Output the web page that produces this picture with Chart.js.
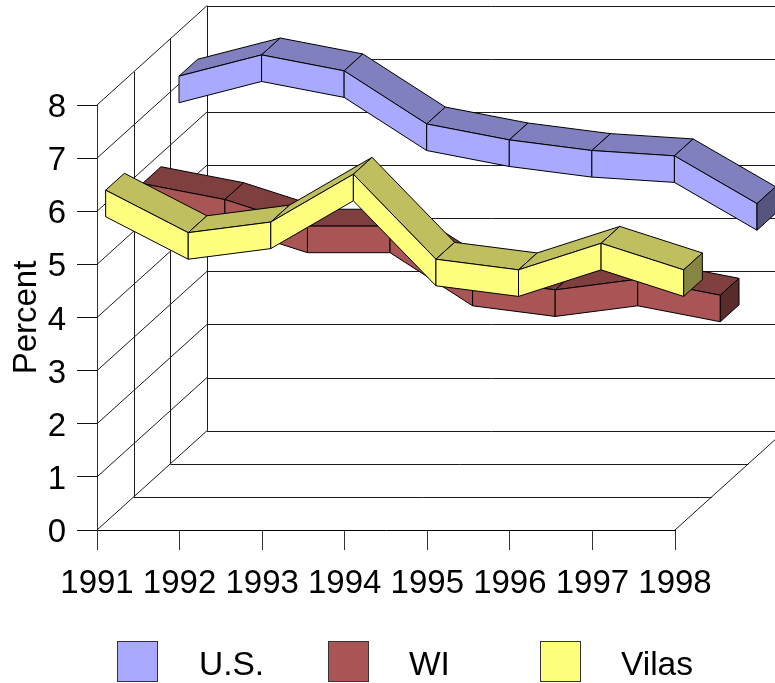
<!DOCTYPE html>
<html>
<head>
<meta charset="utf-8">
<style>html,body{margin:0;padding:0;background:#fff}canvas{display:block}</style>
<script src="https://cdn.jsdelivr.net/npm/chart.js@4"></script>
</head>
<body>
<canvas id="c" width="775" height="683"></canvas>
<script>
const categories = ['1991','1992','1993','1994','1995','1996','1997','1998'];
const seriesNames = ['U.S.','WI','Vilas'];
const usValues    = [6.9,7.3,7.0,6.0,5.7,5.5,5.4,4.5];
const wiValues    = [5.5,5.2,4.7,4.7,3.7,3.5,3.7,3.4];
const vilasValues = [6.0,5.2,5.4,6.3,4.7,4.5,5.0,4.5];
const frontColors = ['#A9A9FF','#AA5555','#FFFF7F'];
const topColors   = ['#8080BF','#803F3F','#BFBF5F'];
const sideColors  = ['#555580','#5A2B2B','#868642'];
const FONT = '"Liberation Sans", Arial, sans-serif';

const DEPTH_X = 110, DEPTH_Y = 99.3, RIBBON_START = 0.236, RIBBON_WIDTH = 0.51, HALF_THICK = 0.25;

const crisp = v => Math.round(v) + 0.5;
function seg(ctx, x1, y1, x2, y2) { ctx.beginPath(); ctx.moveTo(x1, y1); ctx.lineTo(x2, y2); ctx.stroke(); }
function quad(ctx, p, fill) {
  ctx.beginPath();
  ctx.moveTo(p[0][0], p[0][1]);
  for (let i = 1; i < p.length; i++) ctx.lineTo(p[i][0], p[i][1]);
  ctx.closePath();
  ctx.fillStyle = fill;
  ctx.fill();
  ctx.stroke();
}

const nudgeLabels = {
  id: 'nudgeLabels',
  beforeDraw(chart) {
    for (const item of chart.scales.y.getLabelItems()) {
      if (!item.nudged) { item.options.translation[1] += 3; item.nudged = true; }
    }
  }
};

const walls3d = {
  id: 'walls3d',
  beforeDatasetsDraw(chart) {
    const ctx = chart.ctx, xs = chart.scales.x, ys = chart.scales.y;
    const x0 = xs.getPixelForValue(0), x1 = xs.getPixelForValue(categories.length - 1);
    const y0 = ys.getPixelForValue(0), yT = ys.getPixelForValue(8);
    ctx.save();
    ctx.strokeStyle = '#1a1a1a';
    ctx.lineWidth = 1;
    for (const t of ys.ticks) {
      const y = ys.getPixelForValue(t.value);
      seg(ctx, x0, y, x0 + DEPTH_X, y - DEPTH_Y);
      const by = crisp(y - DEPTH_Y);
      seg(ctx, x0 + DEPTH_X, by, x1 + DEPTH_X, by);
    }
    for (let k = 1; k <= 3; k++) {
      const dx = DEPTH_X * k / 3, dy = DEPTH_Y * k / 3;
      seg(ctx, crisp(x0 + dx), y0 - dy, crisp(x0 + dx), yT - dy);
      if (k < 3) seg(ctx, x0 + dx, crisp(y0 - dy), x1 + dx, crisp(y0 - dy));
    }
    seg(ctx, x1, y0, x1 + DEPTH_X, y0 - DEPTH_Y);
    ctx.restore();
  }
};

const ribbons3d = {
  id: 'ribbons3d',
  beforeDatasetsDraw(chart) {
    const ctx = chart.ctx, ys = chart.scales.y;
    const unit = Math.abs(ys.getPixelForValue(HALF_THICK) - ys.getPixelForValue(0));
    ctx.save();
    ctx.strokeStyle = '#000';
    ctx.lineWidth = 1;
    ctx.lineJoin = 'round';
    chart.data.datasets.forEach((ds, di) => {
      const meta = chart.getDatasetMeta(di);
      const depth = (chart.data.datasets.length - 1 - di) + RIBBON_START;
      const ox = depth * DEPTH_X / 3, oy = depth * DEPTH_Y / 3;
      const wx = RIBBON_WIDTH * DEPTH_X / 3, wy = RIBBON_WIDTH * DEPTH_Y / 3;
      const pts = meta.data.map(p => ({ x: p.x + ox, t: p.y - unit - oy, b: p.y + unit - oy }));
      for (let i = 0; i < pts.length - 1; i++) {
        const a = pts[i], c = pts[i + 1];
        quad(ctx, [[a.x, a.t], [c.x, c.t], [c.x + wx, c.t - wy], [a.x + wx, a.t - wy]], topColors[di]);
        quad(ctx, [[a.x, a.t], [c.x, c.t], [c.x, c.b], [a.x, a.b]], frontColors[di]);
      }
      const e = pts[pts.length - 1];
      quad(ctx, [[e.x, e.t], [e.x, e.b], [e.x + wx, e.b - wy], [e.x + wx, e.t - wy]], sideColors[di]);
    });
    ctx.restore();
  }
};

const legendBoxes = {
  id: 'legendBoxes',
  afterDraw(chart) {
    const ctx = chart.ctx;
    const boxX = [117, 328, 540], textX = [199, 409, 621];
    ctx.save();
    chart.data.datasets.forEach((ds, i) => {
      ctx.fillStyle = frontColors[i];
      ctx.fillRect(boxX[i] + 0.5, 641.5, 40, 40);
      ctx.strokeStyle = '#333';
      ctx.lineWidth = 1;
      ctx.strokeRect(boxX[i] + 0.5, 641.5, 40, 40);
      ctx.fillStyle = '#000';
      ctx.font = '33.5px ' + FONT;
      ctx.textBaseline = 'alphabetic';
      ctx.textAlign = 'left';
      ctx.fillText(ds.label, textX[i], 675);
    });
    ctx.restore();
  }
};

new Chart(document.getElementById('c'), {
  type: 'line',
  data: {
    labels: categories,
    datasets: [usValues, wiValues, vilasValues].map((d, i) => ({
      label: seriesNames[i], data: d, showLine: false, pointRadius: 0,
      backgroundColor: frontColors[i], borderColor: '#000'
    }))
  },
  plugins: [nudgeLabels, walls3d, ribbons3d, legendBoxes],
  options: {
    responsive: false,
    animation: false,
    layout: { padding: { top: 105, right: 100, left: 0, bottom: 0 } },
    plugins: { legend: { display: false }, tooltip: { enabled: false }, title: { display: false } },
    scales: {
      x: {
        type: 'category',
        offset: false,
        afterFit: s => { s.height = 153; },
        grid: { drawOnChartArea: false, drawTicks: true, tickLength: 20, color: '#333', offset: false },
        border: { display: true, color: '#000' },
        ticks: { color: '#000', font: { family: FONT, size: 33 }, maxRotation: 0, minRotation: 0, autoSkip: false, padding: 14 }
      },
      y: {
        type: 'linear',
        min: 0, max: 8,
        afterFit: s => { s.width = 97; },
        title: { display: true, text: 'Percent', color: '#000', font: { family: FONT, size: 33 }, padding: { top: 7, bottom: 0 } },
        grid: { drawOnChartArea: false, drawTicks: true, tickLength: 20, color: '#111' },
        border: { display: true, color: '#333' },
        ticks: { stepSize: 1, color: '#000', font: { family: FONT, size: 33 }, padding: 11 }
      }
    }
  }
});
</script>
</body>
</html>
